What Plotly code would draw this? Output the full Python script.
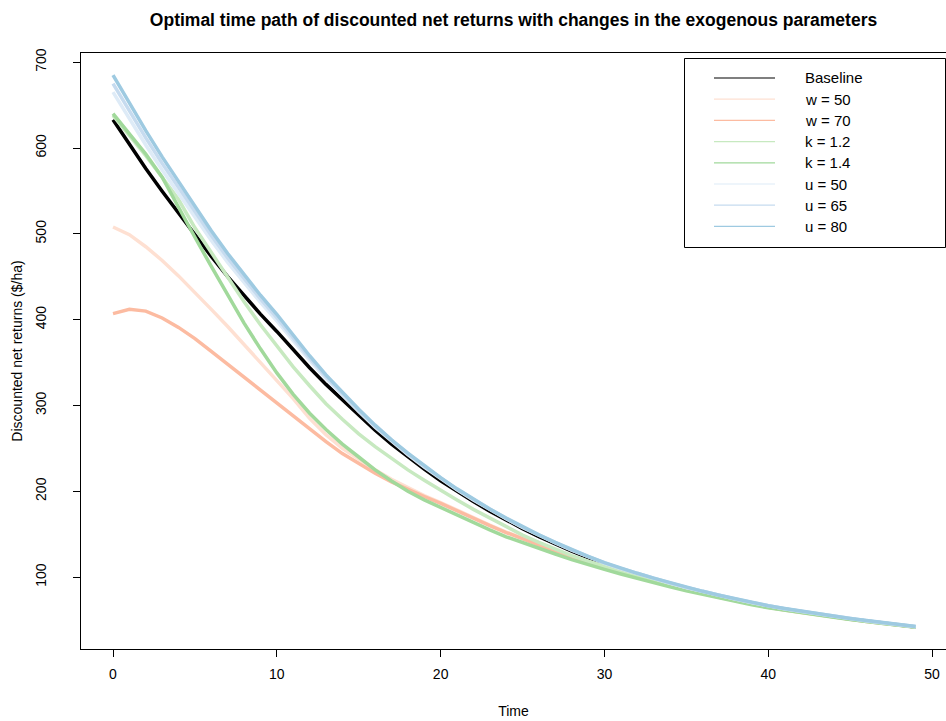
import plotly.graph_objects as go

# ---------------- data ----------------
time = list(range(50))

baseline = [633.0, 603.9, 576.2, 549.7, 524.5, 498.4, 473.7, 450.1, 427.8, 406.5,
            386.3, 364.5, 344.0, 324.6, 306.3, 288.2, 271.1, 255.1, 240.0, 225.8,
            212.4, 199.9, 188.0, 176.9, 166.4, 156.6, 147.3, 138.6, 130.4, 122.7,
            115.4, 109.1, 103.2, 97.6, 92.3, 87.2, 82.5, 78.0, 73.8, 69.7,
            65.9, 62.7, 59.7, 56.7, 54.0, 51.3, 48.8, 46.5, 44.2, 42.0]

w50 = [508.0, 499.0, 485.0, 469.0, 451.0, 432.0, 412.0, 392.0, 371.0, 350.0,
       329.0, 308.0, 285.0, 266.0, 250.0, 237.0, 225.0, 214.0, 204.0, 195.0,
       187.0, 178.0, 169.0, 160.7, 152.6, 145.0, 137.5, 130.5, 124.0, 118.0,
       112.0, 106.1, 100.6, 95.4, 90.4, 85.6, 81.1, 76.8, 72.8, 68.9,
       65.2, 62.0, 59.1, 56.2, 53.6, 51.0, 48.6, 46.3, 44.0, 41.9]

w70 = [407.0, 412.0, 410.0, 402.0, 391.0, 378.0, 363.0, 348.0, 333.0, 317.0,
       302.0, 288.0, 273.0, 258.0, 244.0, 232.0, 221.0, 211.0, 202.0, 194.0,
       186.0, 177.0, 168.0, 160.0, 152.0, 144.5, 137.0, 130.0, 123.5, 117.5,
       111.5, 105.8, 100.3, 95.1, 90.1, 85.3, 80.8, 76.5, 72.5, 68.6,
       64.9, 61.8, 58.9, 56.0, 53.4, 50.8, 48.4, 46.1, 43.9, 41.8]

k12 = [638.0, 615.0, 591.0, 566.0, 540.0, 507.0, 478.0, 449.0, 421.0, 394.0,
       369.0, 345.0, 323.0, 302.0, 284.0, 267.0, 252.0, 238.0, 225.0, 213.0,
       201.0, 190.0, 179.0, 169.0, 158.0, 149.0, 140.5, 132.5, 125.0, 118.5,
       112.5, 107.0, 101.3, 95.9, 90.7, 85.8, 81.2, 76.8, 72.7, 68.7,
       65.0, 61.9, 59.0, 56.1, 53.4, 50.8, 48.4, 46.1, 43.9, 41.8]

k14 = [640.0, 617.0, 593.0, 566.0, 530.0, 496.0, 462.0, 428.0, 396.0, 366.0,
       338.0, 313.0, 291.0, 272.0, 255.0, 240.0, 225.0, 212.0, 200.0, 190.0,
       181.0, 172.0, 163.0, 155.0, 147.0, 140.0, 133.5, 127.0, 120.5, 114.5,
       109.0, 103.7, 98.5, 93.5, 88.7, 84.0, 79.7, 75.5, 71.6, 67.8,
       64.3, 61.3, 58.5, 55.7, 53.2, 50.6, 48.2, 46.0, 43.8, 41.7]

u50 = [665.2, 633.7, 603.5, 574.5, 546.8, 518.9, 492.3, 466.8, 443.3, 420.1,
       398.7, 375.0, 352.7, 331.4, 311.9, 292.9, 274.8, 258.2, 242.8, 228.3,
       214.6, 201.8, 189.9, 178.5, 168.0, 157.8, 148.5, 139.8, 131.5, 123.7,
       116.3, 110.0, 104.0, 98.4, 93.0, 87.9, 83.1, 78.6, 74.4, 70.3,
       66.4, 63.2, 60.2, 57.1, 54.4, 51.7, 49.2, 46.9, 44.6, 42.3]

u65 = [675.0, 642.8, 611.8, 582.1, 553.7, 525.1, 498.0, 472.0, 448.1, 424.3,
       402.5, 378.3, 355.3, 333.5, 313.6, 294.3, 276.0, 259.2, 243.6, 229.0,
       215.2, 202.3, 190.4, 178.9, 168.4, 158.2, 148.9, 140.2, 131.9, 124.0,
       116.6, 110.2, 104.2, 98.6, 93.2, 88.0, 83.3, 78.8, 74.5, 70.4,
       66.5, 63.3, 60.3, 57.3, 54.6, 51.8, 49.3, 47.0, 44.6, 42.4]

u80 = [685.0, 651.9, 620.2, 589.7, 560.5, 531.4, 503.7, 477.1, 452.8, 428.5,
       406.3, 381.5, 358.0, 335.6, 315.3, 295.7, 277.1, 260.1, 244.5, 229.8,
       215.9, 202.9, 191.0, 179.4, 168.9, 158.6, 149.3, 140.6, 132.2, 124.3,
       116.9, 110.5, 104.5, 98.8, 93.4, 88.2, 83.5, 79.0, 74.7, 70.6,
       66.7, 63.5, 60.4, 57.4, 54.7, 51.9, 49.4, 47.1, 44.7, 42.5]

series_names = ["Baseline", "w = 50", "w = 70", "k = 1.2", "k = 1.4",
                "u = 50", "u = 65", "u = 80"]
series_values = [baseline, w50, w70, k12, k14, u50, u65, u80]
series_colors = ["#000000", "#FEE0D2", "#FCBBA1", "#C7E9C0", "#A1D99B",
                 "#DEEBF7", "#C6DBEF", "#9ECAE1"]

x_ticks = [0, 10, 20, 30, 40, 50]
y_ticks = [100, 200, 300, 400, 500, 600, 700]

# ---------------- figure ----------------
W, H = 946, 721
ML, MR, MT, MB = 81, 0, 53, 72
FONT = "Liberation Sans, Arial, Helvetica, sans-serif"

fig = go.Figure()
for name, vals, col in zip(series_names, series_values, series_colors):
    fig.add_trace(go.Scatter(x=time, y=vals, mode="lines", name=name,
                             line=dict(color=col, width=3.5),
                             showlegend=False, hoverinfo="x+y+name"))

plot_w = W - ML - MR
plot_h = H - MT - MB


def px_x(p):
    return (p - ML) / plot_w


def px_y(p):
    return (H - MB - p) / plot_h


# manual legend (R style)
shapes = [dict(type="rect", xref="paper", yref="paper",
               x0=px_x(684.5), x1=px_x(945.5), y0=px_y(247.5), y1=px_y(58.5),
               line=dict(color="black", width=1), fillcolor="white", layer="above")]
annotations = []
row_y = 78.0
for name, col in zip(series_names, series_colors):
    shapes.append(dict(type="line", xref="paper", yref="paper",
                       x0=px_x(714), x1=px_x(775), y0=px_y(row_y), y1=px_y(row_y),
                       line=dict(color=col, width=1.2), layer="above"))
    annotations.append(dict(xref="paper", yref="paper", x=px_x(803), y=px_y(row_y),
                            text=name, showarrow=False, xanchor="left", yanchor="middle",
                            font=dict(family=FONT, size=15, color="black")))
    row_y += 21.2

fig.update_layout(
    width=W, height=H,
    margin=dict(l=ML, r=MR, t=MT, b=MB, autoexpand=False),
    paper_bgcolor="white", plot_bgcolor="white",
    font=dict(family=FONT, size=14, color="black"),
    title=dict(text="<b>Optimal time path of discounted net returns with changes in the exogenous parameters</b>",
               x=(ML + plot_w / 2) / W, xanchor="center",
               y=1 - 20 / H, yanchor="middle",
               font=dict(family=FONT, size=17.5, color="black")),
    shapes=shapes, annotations=annotations,
    showlegend=False,
)

fig.update_xaxes(range=[-1.954, 50.85], tickvals=x_ticks, ticktext=[str(v) for v in x_ticks],
                 showgrid=False, zeroline=False, showline=True, linecolor="black", linewidth=1,
                 mirror=True, ticks="outside", ticklen=7, tickcolor="black", tickwidth=1,
                 tickfont=dict(size=14, color="black"), ticklabelstandoff=5,
                 title=dict(text="Time", standoff=25, font=dict(size=14)), automargin=False)
fig.update_yaxes(range=[16.3, 710.7], tickvals=y_ticks, ticktext=[str(v) for v in y_ticks],
                 showgrid=False, zeroline=False, showline=True, linecolor="black", linewidth=1,
                 mirror=True, ticks="outside", ticklen=7, tickcolor="black", tickwidth=1,
                 tickangle=-90, tickfont=dict(size=14, color="black"), ticklabelstandoff=21,
                 title=dict(text="Discounted net returns ($/ha)", standoff=7, font=dict(size=14)),
                 automargin=False)

fig.write_html("out.html")
